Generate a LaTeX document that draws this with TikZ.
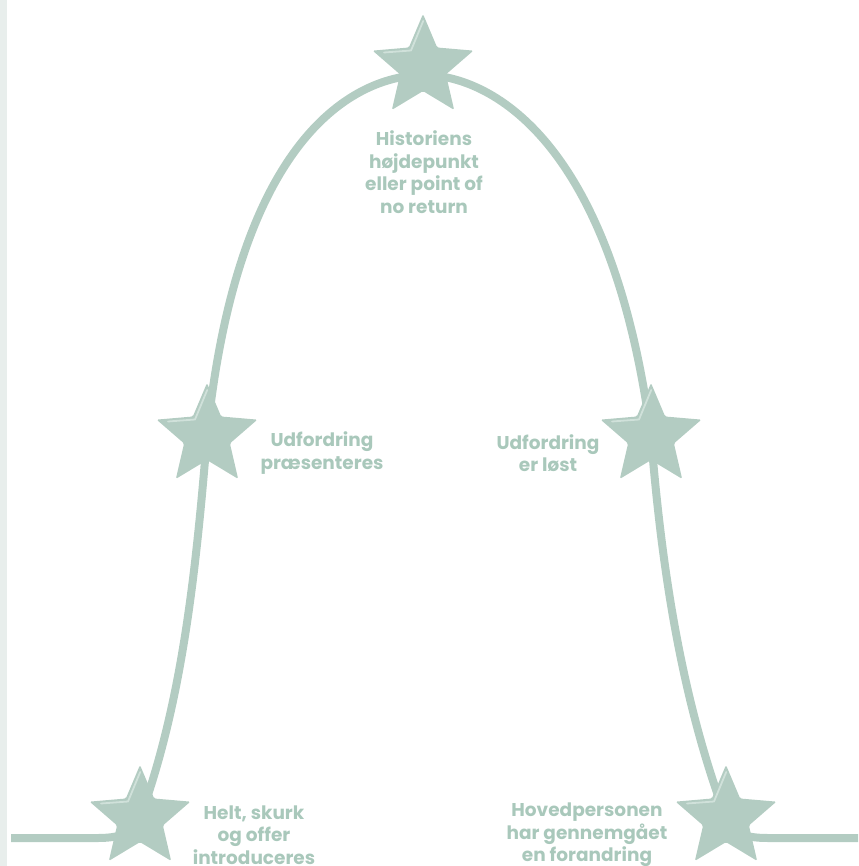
\documentclass[tikz,border=0pt]{standalone}
\usepackage{fontspec}
\setmainfont{Poppins}
\usetikzlibrary{shapes.geometric}
\definecolor{sage}{HTML}{B3CCC2}
\definecolor{sagetext}{HTML}{A9C8BB}
\definecolor{sageshine}{HTML}{D0E1DA}
\definecolor{margin}{HTML}{E8EEEC}
\tikzset{
	trail/.style = {draw = sage, line width = 8pt, line cap = butt, line join = round},
	starnode/.style = {star, star points = 5, star point ratio = 2.2, minimum size = 106pt, inner sep = 0pt, fill = sage, rounded corners = 1.5pt},
	shine/.style = {draw = sageshine, line width = 1.8pt, line cap = round, line join = round},
	caption/.style = {text = sagetext, align = center, inner sep = 0pt, font = \bfseries\fontsize{18.5}{22.5}\selectfont}
}
\begin{document}
\begin{tikzpicture}[x = 1pt, y = -1pt]
	\useasboundingbox (0,0) rectangle (858,866);
	\fill[margin] (0,0) rectangle (7,866);
	\path
	(11,838) coordinate (in)
	(858,838) coordinate (out)
	(424,75) coordinate (peak)
	(140,818) coordinate (p1)
	(207,436) coordinate (p2)
	(423,67) coordinate (p3)
	(651,436) coordinate (p4)
	(726,818) coordinate (p5)
	;
	% the story line
	\draw[trail]
	(in) -- (98,838) .. controls (125,838) and (136,830) .. (p1)
	.. controls (180,708) and (195,586) .. (p2)
	.. controls (240,115) and (370,75) .. (peak)
	.. controls (480,75) and (610,125) .. (p4)
	.. controls (663,586) and (685,708) .. (p5)
	.. controls (732,832) and (742,838) .. (768,838) -- (out)
	;
	% stars
	\foreach \n in {1,...,5}
	{
		\node[starnode] (s\n) at (p\n) {};
		\draw[shine] ([shift={(0.2,-46)}]s\n.center) -- ([shift={(-12,-16.5)}]s\n.center) -- ([shift={(-39,-14.5)}]s\n.center);
	}
	\node[caption] (climax) at (424,172) {Historiens\\højdepunkt\\eller point of\\no return};
	\node[caption] (challenge) at (322,453) {Udfordring\\præsenteres};
	\node[caption] (solved) at (548,453) {Udfordring\\er løst};
	\node[caption] (intro) at (254,835) {Helt, skurk\\og offer\\introduceres};
	\node[caption] (change) at (587,835) {Hovedpersonen\\har gennemgået\\en forandring};
\end{tikzpicture}
\end{document}
